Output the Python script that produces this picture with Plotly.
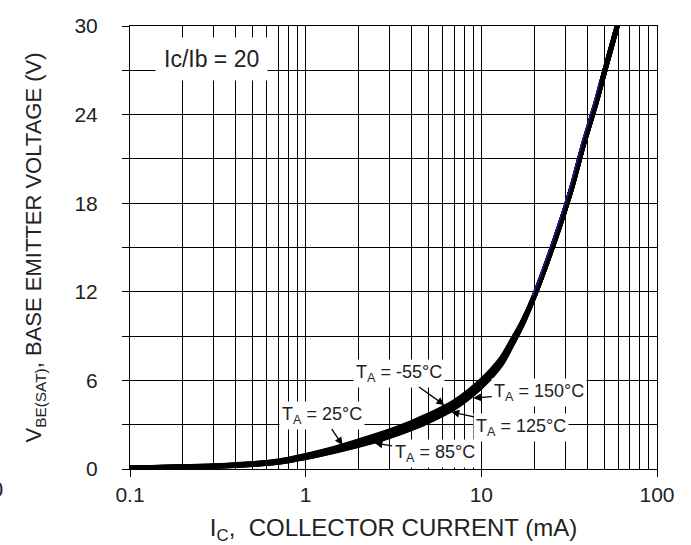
import math
import plotly.graph_objects as go

# Collector current (mA)
ic_ma = [0.1, 0.2, 0.3, 0.5, 0.7, 1, 1.5, 2, 3, 4, 5, 7, 10, 13, 15, 17, 20, 23, 28, 33, 38, 45, 50, 60]

# V_BE(SAT) (V) for each ambient temperature
vbe_m55 = [0.07, 0.15, 0.22, 0.37, 0.55, 0.92, 1.45, 1.90, 2.58, 3.15, 3.65, 4.55, 6.00, 7.50, 8.75, 9.90, 11.7, 13.6, 16.5, 19.2, 21.9, 24.8, 26.8, 30.2]
vbe_25 = [0.07, 0.15, 0.21, 0.36, 0.53, 0.89, 1.41, 1.83, 2.50, 3.06, 3.57, 4.47, 5.92, 7.42, 8.70, 9.86, 11.7, 13.6, 16.5, 19.2, 21.9, 24.8, 26.8, 30.2]
vbe_85 = [0.07, 0.14, 0.19, 0.32, 0.48, 0.81, 1.30, 1.68, 2.30, 2.84, 3.33, 4.22, 5.68, 7.20, 8.52, 9.75, 11.7, 13.6, 16.5, 19.2, 21.9, 24.8, 26.8, 30.2]
vbe_125 = [0.07, 0.13, 0.18, 0.31, 0.46, 0.78, 1.25, 1.62, 2.22, 2.76, 3.25, 4.15, 5.60, 7.12, 8.47, 9.72, 11.7, 13.6, 16.5, 19.2, 21.9, 24.8, 26.8, 30.2]
vbe_150 = [0.07, 0.13, 0.18, 0.30, 0.45, 0.77, 1.23, 1.60, 2.20, 2.73, 3.22, 4.12, 5.57, 7.10, 8.45, 9.70, 11.7, 13.6, 16.5, 19.2, 21.9, 24.8, 26.8, 30.2]

# thin blue curve visible at the upper part
ic_blue = [19.5, 22.4, 27.3, 32.2, 37.0, 43.8, 47.0]
vbe_blue = [11.7, 13.6, 16.5, 19.2, 21.9, 24.8, 26.2]

series = [
    ("T_A = -55°C", vbe_m55),
    ("T_A = 25°C", vbe_25),
    ("T_A = 85°C", vbe_85),
    ("T_A = 125°C", vbe_125),
    ("T_A = 150°C", vbe_150),
]

x_tickvals = [0.1, 1, 10, 100]
x_ticktext = ["0.1", "1", "10", "100"]
x_minor = [0.2, 0.3, 0.4, 0.5, 0.6, 0.7, 0.8, 0.9,
           2, 3, 4, 5, 6, 7, 8, 9,
           20, 30, 40, 50, 60, 70, 80, 90]
y_tickvals = [0, 6, 12, 18, 24, 30]

# labels: (text, head current, head voltage, ax, ay)
labels = [
    ("T<sub>A</sub> = -55°C", 6.16, 4.33, -45, -32),
    ("T<sub>A</sub> = 150°C", 9.0, 4.81, 66, -5),
    ("T<sub>A</sub> = 125°C", 6.76, 3.86, 70, 15),
    ("T<sub>A</sub> = 85°C", 2.47, 1.76, 60, 10),
    ("T<sub>A</sub> = 25°C", 1.62, 1.62, -20, -30),
]

FONT = "Liberation Sans, Arial, Helvetica, sans-serif"

fig = go.Figure()
for name, v in series:
    fig.add_trace(go.Scatter(x=ic_ma, y=v, mode="lines", name=name,
                             line=dict(color="black", width=5, shape="spline", smoothing=0.8),
                             showlegend=False, hoverinfo="skip"))
fig.add_trace(go.Scatter(x=ic_blue, y=vbe_blue, mode="lines",
                         line=dict(color="#1c1c8c", width=1.5, shape="spline", smoothing=0.8),
                         showlegend=False, hoverinfo="skip"))

annotations = []
for text, hx, hy, ax, ay in labels:
    annotations.append(dict(
        x=math.log10(hx), y=hy, xref="x", yref="y",
        text=text, showarrow=True, ax=ax, ay=ay,
        arrowhead=2, arrowsize=1.2, arrowwidth=1.3, arrowcolor="black",
        bgcolor="white", borderpad=2,
        font=dict(family=FONT, size=18, color="#222"),
    ))
annotations.append(dict(
    x=(211 - 130) / 527, y=1 - (59.5 - 26) / 443, xref="paper", yref="paper",
    xanchor="center", yanchor="middle",
    text="Ic/Ib = 20", showarrow=False, bgcolor="white", borderpad=8,
    font=dict(family=FONT, size=23, color="#222"),
))
annotations.append(dict(
    x=(-3 - 130) / 527, y=1 - (489 - 26) / 443, xref="paper", yref="paper",
    text="0", showarrow=False, xanchor="center", yanchor="middle",
    font=dict(family=FONT, size=22, color="#222"),
))

fig.update_layout(
    width=691, height=545,
    margin=dict(l=130, r=34, t=26, b=76),
    paper_bgcolor="white", plot_bgcolor="white",
    font=dict(family=FONT, size=21, color="#222"),
    annotations=annotations,
    xaxis=dict(
        type="log", range=[-1, 2], automargin=False,
        tickvals=x_tickvals, ticktext=x_ticktext,
        ticks="outside", ticklen=7, tickcolor="black", tickwidth=1,
        showgrid=True, gridcolor="black", gridwidth=1,
        minor=dict(tickvals=x_minor, showgrid=True, gridcolor="black", gridwidth=1, ticks=""),
        showline=True, linecolor="black", linewidth=1, mirror=True,
        zeroline=False,
        tickfont=dict(size=21),
        title=dict(text="I<sub>C</sub>,  COLLECTOR CURRENT (mA)", font=dict(size=24), standoff=13),
    ),
    yaxis=dict(
        range=[0, 30], tickvals=y_tickvals, automargin=False,
        ticks="outside", ticklen=7, tickcolor="black", tickwidth=1,
        showgrid=True, gridcolor="black", gridwidth=1,
        minor=dict(dtick=3, showgrid=True, gridcolor="black", gridwidth=1, ticks="outside", ticklen=7, tickcolor="black"),
        showline=True, linecolor="black", linewidth=1, mirror=True,
        zeroline=False,
        tickfont=dict(size=21),
        ticklabelstandoff=20,
        title=dict(text="V<sub>BE(SAT)</sub>, BASE EMITTER VOLTAGE (V)", font=dict(size=22), standoff=26),
    ),
)

fig.write_html("out.html")
